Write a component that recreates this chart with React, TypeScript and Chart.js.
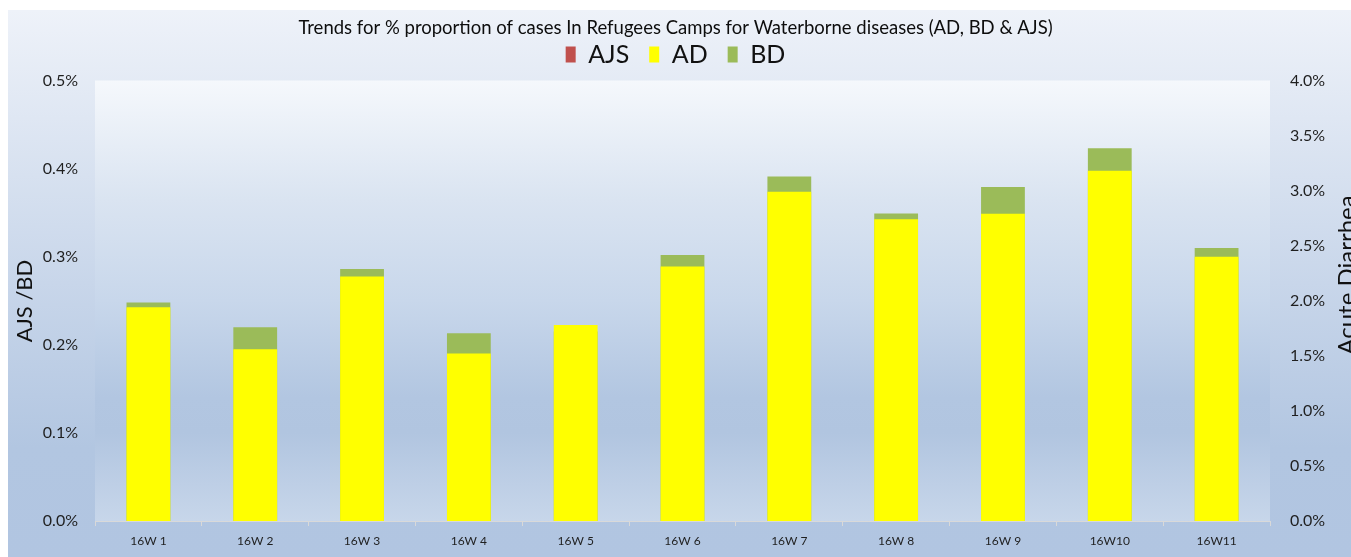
import React, { useEffect, useRef } from 'react';
import { Chart, registerables, layouts } from 'chart.js';

Chart.register(...registerables);

const categories = ['16W 1', '16W 2', '16W 3', '16W 4', '16W 5', '16W 6', '16W 7', '16W 8', '16W 9', '16W10', '16W11'];
// AJS / BD on the left axis (%), AD on the right axis (%)
const ajsValues = [0, 0, 0, 0, 0, 0, 0, 0, 0, 0, 0];
const adValues = [1.94, 1.56, 2.22, 1.52, 1.78, 2.31, 2.99, 2.74, 2.79, 3.18, 2.40];
const bdValues = [0.248, 0.220, 0.286, 0.213, 0.215, 0.302, 0.391, 0.349, 0.379, 0.423, 0.310];

const titleText = 'Trends for % proportion of cases In Refugees Camps for Waterborne diseases (AD, BD & AJS)';
const leftAxisTitle = 'AJS /BD';
const rightAxisTitle = 'Acute Diarrhea';

const FONT = 'Lato';

const backgroundPlugin = {
  id: 'bgPlugin',
  beforeDraw(chart: any) {
    const { ctx, width, height, chartArea } = chart;
    ctx.save();
    ctx.fillStyle = '#ffffff';
    ctx.fillRect(0, 0, width, height);
    const g = ctx.createLinearGradient(0, 10, 0, height);
    g.addColorStop(0, '#eef2f9');
    g.addColorStop(0.5, '#c8d6ea');
    g.addColorStop(0.8, '#b2c6e1');
    g.addColorStop(1, '#b1c5e1');
    ctx.fillStyle = g;
    ctx.fillRect(8, 10, width - 8, height - 10);
    const { left, top, right, bottom } = chartArea;
    const g2 = ctx.createLinearGradient(0, top, 0, bottom);
    g2.addColorStop(0, '#f5f8fc');
    g2.addColorStop(0.27, '#dae4f1');
    g2.addColorStop(0.5, '#c8d7eb');
    g2.addColorStop(0.72, '#b2c6e1');
    g2.addColorStop(0.8, '#b1c5e0');
    g2.addColorStop(1, '#c7d6ea');
    ctx.fillStyle = g2;
    ctx.fillRect(left, top, right - left, bottom - top);
    ctx.restore();
  },
};

const axisTitlesPlugin = {
  id: 'axisTitles',
  afterDraw(chart: any) {
    const { ctx } = chart;
    ctx.save();
    ctx.fillStyle = '#111111';
    ctx.textAlign = 'center';
    ctx.textBaseline = 'alphabetic';
    ctx.save();
    ctx.font = `22px ${FONT}`;
    ctx.translate(32, 301);
    ctx.rotate(-Math.PI / 2);
    ctx.fillText(leftAxisTitle, 0, 0);
    ctx.restore();
    ctx.save();
    ctx.font = `24px ${FONT}`;
    ctx.translate(1355, 275);
    ctx.rotate(-Math.PI / 2);
    ctx.fillText(rightAxisTitle, 0, 0);
    ctx.restore();
    ctx.restore();
  },
};

const spacerPlugin = {
  id: 'topSpacer',
  beforeInit(chart: any) {
    const box: any = {
      position: 'top',
      weight: 0,
      fullSize: true,
      options: { display: true },
      top: 0, left: 0, right: 0, bottom: 0, width: 0, height: 0,
      isHorizontal() { return true; },
      update(maxWidth: number) { this.width = maxWidth; this.height = 3.5; return this; },
      draw() {},
    };
    layouts.addBox(chart, box);
  },
};

export default function App() {
  const canvasRef = useRef<HTMLCanvasElement | null>(null);

  useEffect(() => {
    document.body.style.margin = '0';
    document.body.style.overflow = 'hidden';
    const canvas = canvasRef.current;
    if (!canvas) return;
    const tickColor = '#1f1f1f';
    const chart = new Chart(canvas, {
      type: 'bar',
      data: {
        labels: categories,
        datasets: [
          { label: 'AJS', data: ajsValues, backgroundColor: '#c0504d', yAxisID: 'y', grouped: false, order: 3, borderWidth: 0 } as any,
          { label: 'AD', data: adValues, backgroundColor: '#ffff00', yAxisID: 'y1', grouped: false, order: 1, borderWidth: 0 } as any,
          { label: 'BD', data: bdValues, backgroundColor: '#9bbb59', yAxisID: 'y', grouped: false, order: 2, borderWidth: 0 } as any,
        ],
      },
      options: {
        animation: false,
        responsive: true,
        maintainAspectRatio: false,
        datasets: { bar: { barPercentage: 0.41, categoryPercentage: 1.0 } },
        layout: { padding: 0 },
        plugins: {
          tooltip: { enabled: false },
          title: {
            display: true,
            text: titleText,
            color: '#0d0d0d',
            font: { family: FONT, size: 18.5, weight: 'normal' },
            padding: { top: 17.4, bottom: -17.6 },
          },
          legend: {
            display: true,
            position: 'top',
            labels: {
              boxWidth: 10,
              boxHeight: 16,
              padding: 20,
              color: '#111111',
              font: { family: FONT, size: 25 },
              sort: (a: any, b: any) => a.datasetIndex - b.datasetIndex,
            },
          },
        },
        scales: {
          x: {
            grid: { display: true, drawOnChartArea: false, drawTicks: true, tickLength: 5, color: '#d9d9d9', offset: true },
            border: { display: true, color: '#d9d9d9' },
            ticks: { color: tickColor, font: { family: FONT, size: 12 }, padding: 8, maxRotation: 0, autoSkip: false },
            afterFit: (s: any) => { s.height = 36; },
          },
          y: {
            position: 'left',
            min: 0,
            max: 0.5,
            grid: { display: false, drawTicks: false },
            border: { display: false },
            ticks: {
              stepSize: 0.1,
              padding: 17,
              color: tickColor,
              font: { family: FONT, size: 16 },
              callback: (v: any) => Number(v).toFixed(1) + '%',
            },
            afterFit: (s: any) => { s.width = 95; },
          },
          y1: {
            position: 'right',
            min: 0,
            max: 4,
            grid: { display: false, drawTicks: false },
            border: { display: false },
            ticks: {
              stepSize: 0.5,
              padding: 20,
              color: tickColor,
              font: { family: FONT, size: 16 },
              callback: (v: any) => Number(v).toFixed(1) + '%',
            },
            afterFit: (s: any) => { s.width = 81; },
          },
        },
      } as any,
      plugins: [backgroundPlugin, axisTitlesPlugin, spacerPlugin],
    });
    return () => chart.destroy();
  }, []);

  return (
    <div style={{ position: 'relative', width: 1351, height: 557 }}>
      <canvas ref={canvasRef} style={{ display: 'block' }} />
    </div>
  );
}
